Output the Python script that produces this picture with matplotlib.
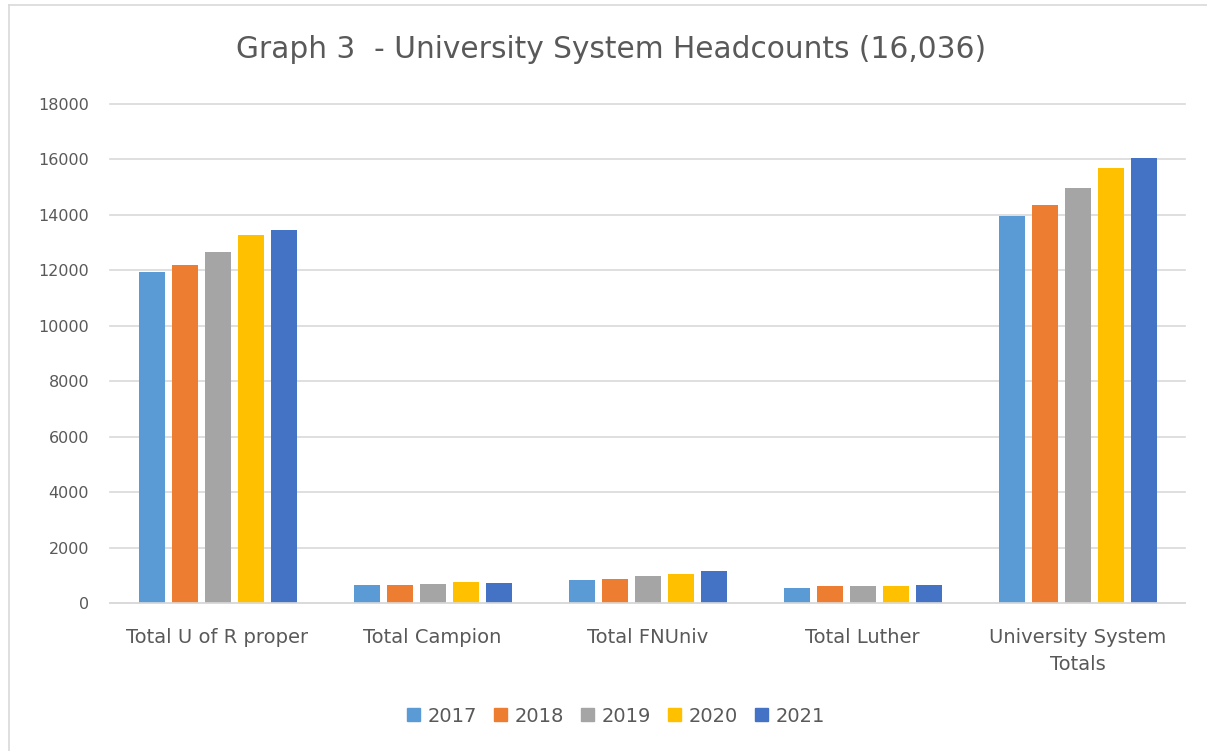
import matplotlib
matplotlib.use("Agg")
import matplotlib.pyplot as plt
from matplotlib.lines import Line2D
import numpy as np

categories = ["Total U of R proper", "Total Campion", "Total FNUniv", "Total Luther", "University System\nTotals"]
years = ["2017", "2018", "2019", "2020", "2021"]
values = {
    "2017": [11930, 650, 830, 530, 13960],
    "2018": [12205, 660, 866, 613, 14370],
    "2019": [12675, 685, 963, 600, 14970],
    "2020": [13265, 758, 1035, 600, 15705],
    "2021": [13455, 721, 1154, 650, 16036],
}
colors = ["#5b9bd5", "#ed7d31", "#a5a5a5", "#ffc000", "#4472c4"]
title = "Graph 3  - University System Headcounts (16,036)"
yticks = list(range(0, 18001, 2000))

W, H = 1207, 751
fig = plt.figure(figsize=(W / 100, H / 100), dpi=100)
ax = fig.add_axes([110 / W, (H - 603) / H, 1075 / W, 499 / H])

x = np.arange(len(categories))
bw = 26 / 215
step = 33 / 215
for i, (yr, c) in enumerate(zip(years, colors)):
    ax.bar(x + (i - 2) * step, values[yr], width=bw, color=c, label=yr, zorder=3)

ax.set_xlim(-0.5, len(categories) - 0.5)
ax.set_ylim(0, 18000)
ax.set_yticks(yticks)
ax.set_yticklabels([str(t) for t in yticks])
ax.set_xticks(x)
ax.set_xticklabels(categories, linespacing=1.5)
ax.tick_params(axis="y", length=0, labelsize=11.5, colors="#595959", pad=15)
ax.tick_params(axis="x", length=0, labelsize=14, colors="#595959", pad=18)
ax.grid(axis="y", color="#d9d9d9", linewidth=1.2, zorder=0)
for gl in ax.get_ygridlines():
    gl.set_clip_on(False)
for s in ["left", "right", "top"]:
    ax.spines[s].set_visible(False)
ax.spines["bottom"].set_color("#d9d9d9")
ax.spines["bottom"].set_linewidth(1.2)
ax.spines["bottom"].set_zorder(4)

fig.text(611 / W, 1 - 50 / H, title, ha="center", va="center", fontsize=21.3, color="#595959")

handles = [plt.Rectangle((0, 0), 1, 1, color=c) for c in colors]
fig.legend(handles, years, loc="center", bbox_to_anchor=(616 / W, 1 - 716 / H), ncol=5,
           frameon=False, fontsize=14, handlelength=0.68, handleheight=0.68,
           columnspacing=0.85, handletextpad=0.4, labelcolor="#595959")

fig.add_artist(Line2D([9 / W, 1], [1 - 5 / H, 1 - 5 / H], color="#d9d9d9", linewidth=1.2, transform=fig.transFigure))
fig.add_artist(Line2D([9 / W, 9 / W], [0, 1 - 5 / H], color="#d9d9d9", linewidth=1.2, transform=fig.transFigure))

fig.savefig("out.png", dpi=100)
